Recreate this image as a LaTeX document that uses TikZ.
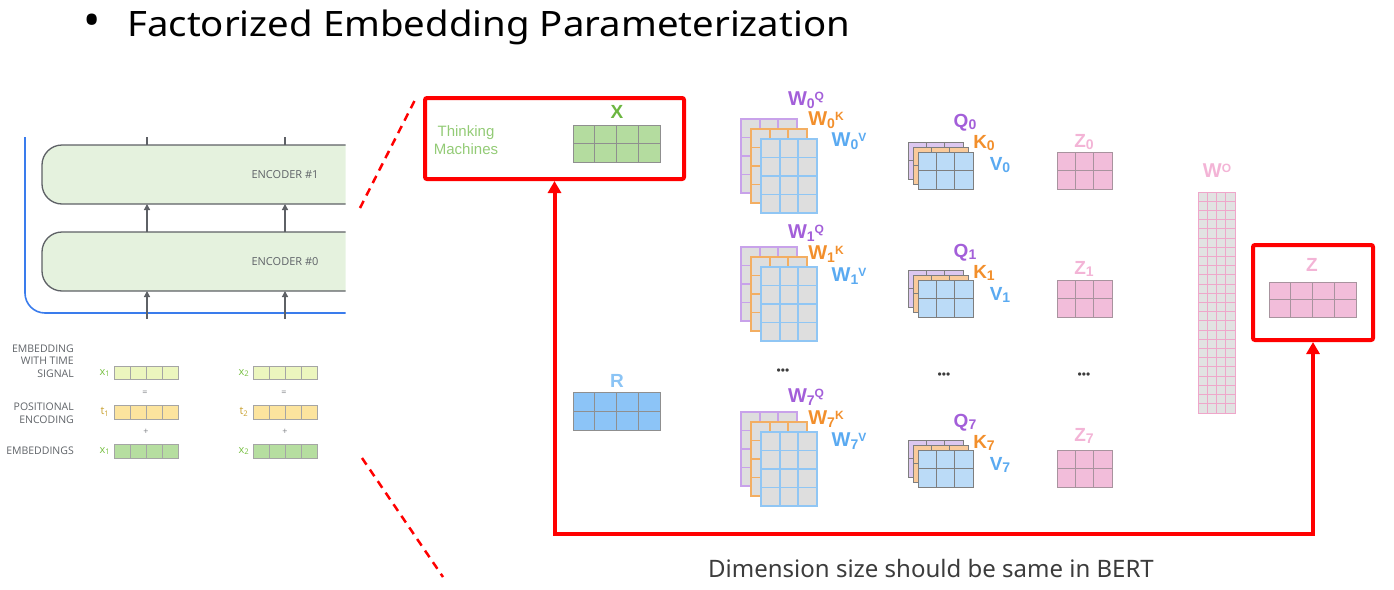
\documentclass[tikz,border=0pt]{standalone}
\usepackage{fontspec}
\setmainfont{Liberation Sans}
\newfontfamily\opensans{Open Sans}
\newfontfamily\notosans{Noto Sans}
\usetikzlibrary{arrows.meta,calc}
\definecolor{purpT}{HTML}{A35FD9}
\definecolor{purpB}{HTML}{C8A2EA}
\definecolor{purpF}{HTML}{DCC7EF}
\definecolor{orT}{HTML}{F28F2C}
\definecolor{orB}{HTML}{F3AE62}
\definecolor{orF}{HTML}{F9CA9B}
\definecolor{bluT}{HTML}{5AAAF1}
\definecolor{bluB}{HTML}{90C6F4}
\definecolor{bluF}{HTML}{BBDBF7}
\definecolor{bluR}{HTML}{8CC4F7}
\definecolor{grayF}{HTML}{DEDEDE}
\definecolor{pinkT}{HTML}{F3B4D6}
\definecolor{pinkF}{HTML}{F2BDDA}
\definecolor{pinkB}{HTML}{A8939E}
\definecolor{woB}{HTML}{EFA6CA}
\definecolor{woF}{HTML}{E2E2E2}
\definecolor{greenT}{HTML}{6CB641}
\definecolor{greenF}{HTML}{B4DC9F}
\definecolor{matB}{HTML}{8F8F8F}
\definecolor{qB}{HTML}{7E7E7E}
\definecolor{tmT}{HTML}{93CB76}
\definecolor{embA}{HTML}{ECF6BE}
\definecolor{embT}{HTML}{FCE49E}
\definecolor{embX}{HTML}{B6DEA0}
\definecolor{embB}{HTML}{A5A5A5}
\definecolor{xT}{HTML}{78C043}
\definecolor{tT}{HTML}{C9A233}
\definecolor{encF}{HTML}{E5F2DE}
\definecolor{encB}{HTML}{5E6166}
\definecolor{blueLine}{HTML}{3A7CEC}
\definecolor{grayT}{HTML}{5F6368}
\definecolor{bottomT}{HTML}{3C3C3C}
\def\gmlw{1pt}
\newcommand{\gmat}[9]{%
  \node[draw=#9, fill=#8, line width=\gmlw, minimum width=#4pt, minimum height=#5pt,
        inner sep=0pt, outer sep=0pt, anchor=north west] (#1) at (#2,#3) {};
  \pgfmathtruncatemacro\gmc{#6-1}%
  \pgfmathtruncatemacro\gmr{#7-1}%
  \ifnum\gmc>0
  \foreach \gi in {1,...,\gmc} {\draw[draw=#9, line width=\gmlw]
     ($(#1.north west)!{\gi/#6}!(#1.north east)$) -- ($(#1.south west)!{\gi/#6}!(#1.south east)$);}%
  \fi
  \ifnum\gmr>0
  \foreach \gi in {1,...,\gmr} {\draw[draw=#9, line width=\gmlw]
     ($(#1.north west)!{\gi/#7}!(#1.south west)$) -- ($(#1.north east)!{\gi/#7}!(#1.south east)$);}%
  \fi
}
\newcommand{\wlab}[2]{{\fontsize{20}{20}\selectfont W}\raisebox{-2.5pt}{\fontsize{14}{14}\selectfont #1}\raisebox{5pt}{\fontsize{12}{12}\selectfont #2}}
\newcommand{\qlab}[2]{#1\raisebox{-2pt}{\fontsize{14}{14}\selectfont #2}}
\begin{document}
\begin{tikzpicture}[x=1pt,y=-1pt,
  lab/.style={font=\bfseries\fontsize{19}{19}\selectfont, inner sep=0pt},
  purpL/.style={lab, text=purpT},
  orL/.style={lab, text=orT},
  bluL/.style={lab, text=bluT},
  pinkL/.style={lab, text=pinkT},
  dots/.style={font=\fontsize{12}{12}\selectfont, text=bottomT, inner sep=0pt},
  enc/.style={draw=encB, fill=encF, line width=1.3pt, rounded corners=20pt,
              minimum width=420pt, minimum height=59pt, anchor=north west, inner sep=0pt, outer sep=0pt},
  enctext/.style={font=\opensans\fontsize{11}{11}\selectfont, text=grayT, inner sep=0pt},
  encline/.style={draw=encB, line width=1.3pt},
  encarrow/.style={encline, -{Triangle[width=6pt,length=6pt]}},
  emblab/.style={font=\opensans\fontsize{10.5}{12.5}\selectfont, text=grayT, align=right, anchor=east, inner sep=0pt},
  vlab/.style={font=\opensans\fontsize{11}{11}\selectfont, inner sep=0pt},
  op/.style={font=\opensans\fontsize{9}{9}\selectfont, text=grayT!80, inner sep=0pt},
  redbox/.style={draw=red, line width=4pt, rounded corners=2pt, anchor=north west,
                 inner sep=0pt, outer sep=2pt},
  redarrow/.style={draw=red, line width=4pt, line join=miter,
                   {Triangle[width=13pt,length=12pt]}-{Triangle[width=13pt,length=12pt]}},
  reddash/.style={draw=red, line width=2.5pt, dash pattern=on 8pt off 6pt}
]
\useasboundingbox (0,0) rectangle (1394,589);

% title
\node[font=\notosans\fontsize{46}{46}\selectfont, inner sep=0pt] (bullet) at (92,25) {•};
\node[font=\notosans\fontsize{35}{35}\selectfont, text=black, anchor=base west, inner sep=0pt] (title) at (127,36) {\scalebox{1.096}[1]{Factorized Embedding Parameterization}};

% left: encoders
\begin{scope}
\clip (0,0) rectangle (345.5,589);
\draw[blueLine, line width=1.6pt, rounded corners=20pt] (25,137) -- (25,313) -- (345.5,313);
\node[enc] (enc1) at (42,145) {};
\node[enc] (enc0) at (42,232) {};
\end{scope}
\node[enctext] (enc1t) at (285,175) {ENCODER \#1};
\node[enctext] (enc0t) at (285,262) {ENCODER \#0};
\coordinate (ta) at (147,137);
\coordinate (tb) at (285,137);
\coordinate (ba) at (147,319);
\coordinate (bb) at (285,319);
\draw[encline] (enc1.north -| ta) -- (ta);
\draw[encline] (enc1.north -| tb) -- (tb);
\draw[encarrow] (enc0.north -| ta) -- (enc1.south -| ta);
\draw[encarrow] (enc0.north -| tb) -- (enc1.south -| tb);
\draw[encarrow] (ba) -- (enc0.south -| ba);
\draw[encarrow] (bb) -- (enc0.south -| bb);

% left: embeddings
\node[emblab] (l1) at (74,361) {EMBEDDING\\WITH TIME\\SIGNAL};
\node[emblab] (l2) at (74,413) {POSITIONAL\\ENCODING};
\node[emblab] (l3) at (74,451) {EMBEDDINGS};
\gmat{ea1}{114}{366}{64}{13}{4}{1}{embA}{embB}
\gmat{et1}{114}{405}{64}{14}{4}{1}{embT}{embB}
\gmat{ex1}{114}{444}{64}{14}{4}{1}{embX}{embB}
\gmat{ea2}{253}{366}{64}{13}{4}{1}{embA}{embB}
\gmat{et2}{253}{405}{64}{14}{4}{1}{embT}{embB}
\gmat{ex2}{253}{444}{64}{14}{4}{1}{embX}{embB}
\node[vlab, text=xT] (xa1) at (105,373) {x\textsubscript{1}};
\node[vlab, text=tT]  (xt1) at (105,412) {t\textsubscript{1}};
\node[vlab, text=xT] (xx1) at (105,451) {x\textsubscript{1}};
\node[vlab, text=xT] (xa2) at (244,373) {x\textsubscript{2}};
\node[vlab, text=tT]  (xt2) at (244,412) {t\textsubscript{2}};
\node[vlab, text=xT] (xx2) at (244,451) {x\textsubscript{2}};
\node[op] (eq1) at (145,393) {=};
\node[op] (eq2) at (284,393) {=};
\node[op] (pl1) at (146,432) {+};
\node[op] (pl2) at (285,432) {+};

% dashed zoom lines
\coordinate (d1a) at (360,208);
\coordinate (d1b) at (417,96);
\coordinate (d2a) at (362,458);
\coordinate (d2b) at (443,577);
\draw[reddash] (d1a) -- (d1b);
\draw[reddash] (d2a) -- (d2b);

% X box
\node[redbox, minimum width=259pt, minimum height=81pt] (xbox) at (423,96) {};
\node[font=\fontsize{15}{18}\selectfont, text=tmT, align=center, inner sep=0pt] (tm) at (466,140) {Thinking\\Machines};
\node[lab, text=greenT] (xl) at (617,112) {X};
\gmat{xm}{573}{125}{87}{37}{4}{2}{greenF}{matB}

% R
\node[lab, text=bluT!70] (rl) at (617,381) {R};
\gmat{rm}{573}{392}{87}{38}{4}{2}{bluR}{matB}

% head rows
\foreach \r/\yw/\yq/\wq/\wk/\wv/\ql/\kl/\vl/\zl in {0/119/142/100/120/141/123/143/165/142, 1/247/270/233/254/276/253/273/295/269, 7/412/440/397/419/441/423/443/465/436}{
  \def\gmlw{1.7pt}
  \gmat{wq\r}{741}{\yw}{56}{74}{3}{4}{grayF}{purpB}
  \gmat{wk\r}{751}{\yw+10}{56}{74}{3}{4}{grayF}{orB}
  \gmat{wv\r}{761}{\yw+20}{56}{74}{3}{4}{grayF}{bluB}
  \def\gmlw{1pt}
  \node[purpL] (wql\r) at (806,\wq) {\wlab{\r}{Q}};
  \node[orL] (wkl\r) at (826,\wk) {\wlab{\r}{K}};
  \node[bluL] (wvl\r) at (849,\wv) {\wlab{\r}{V}};
  \gmat{q\r}{908}{\yq}{55}{37}{3}{2}{purpF}{qB}
  \gmat{k\r}{913}{\yq+5}{55}{37}{3}{2}{orF}{qB}
  \gmat{v\r}{918}{\yq+10}{55}{37}{3}{2}{bluF}{qB}
  \node[purpL] (ql\r) at (965,\ql) {\qlab{Q}{\r}};
  \node[orL] (kl\r) at (984,\kl) {\qlab{K}{\r}};
  \node[bluL] (vl\r) at (1000,\vl) {\qlab{V}{\r}};
  \gmat{z\r}{1057}{\yq+10}{55}{37}{3}{2}{pinkF}{pinkB}
  \node[pinkL] (zl\r) at (1084,\zl) {\qlab{Z}{\r}};
}
\node[dots] (dt1) at (783,372) {•••};
\node[dots] (dt2) at (944,376) {•••};
\node[dots] (dt3) at (1084,376) {•••};

% W^O
\node[pinkL] (wol) at (1217,171) {{\fontsize{20}{20}\selectfont W}\raisebox{5pt}{\fontsize{12}{12}\selectfont O}};
\gmat{wo}{1198}{192}{37}{221}{4}{24}{woF}{woB}

% Z box
\node[redbox, minimum width=120pt, minimum height=95pt] (zbox) at (1251,243) {};
\node[pinkL] (zl) at (1312,265) {Z};
\gmat{zm}{1269}{282}{87}{35}{4}{2}{pinkF}{pinkB}

% red connector
\coordinate (rc) at (551,534);
\draw[redarrow] (xbox.south) -- (xbox.south |- rc) -| (zbox.south);

% caption
\node[font=\notosans\fontsize{24}{24}\selectfont, text=bottomT, anchor=base, inner sep=0pt] (cap) at (931,577) {Dimension size should be same in BERT};
\end{tikzpicture}
\end{document}
